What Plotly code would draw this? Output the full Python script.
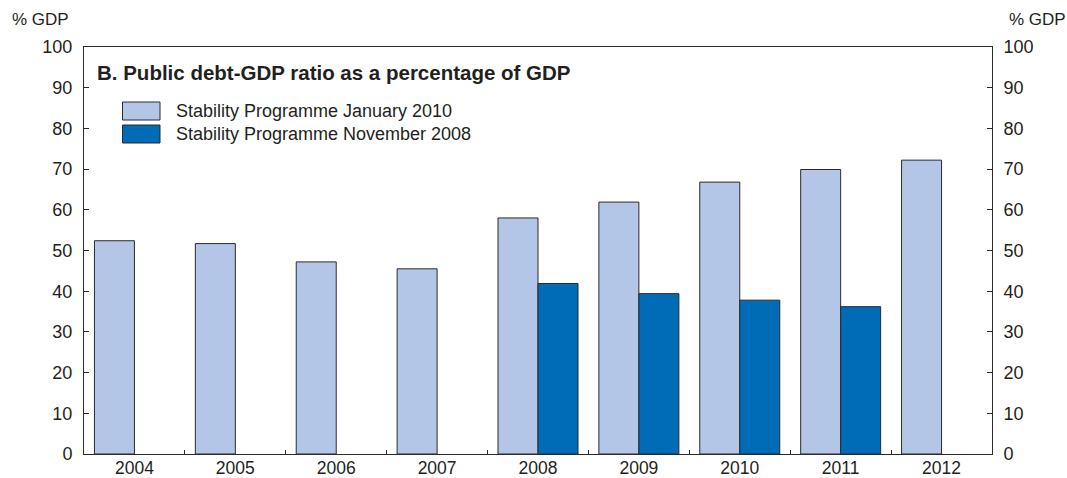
import plotly.graph_objects as go

years = ["2004", "2005", "2006", "2007", "2008", "2009", "2010", "2011", "2012"]
sp_jan_2010 = [52.4, 51.7, 47.2, 45.5, 58.0, 61.9, 66.8, 69.9, 72.2]
sp_nov_2008 = [None, None, None, None, 41.9, 39.4, 37.8, 36.2, None]
series_names = ["Stability Programme January 2010", "Stability Programme November 2008"]
y_ticks = [0, 10, 20, 30, 40, 50, 60, 70, 80, 90, 100]

LIGHT = "#B3C6E7"
DARK = "#006BB6"
EDGE = "#2b2b2b"
TXT = "#231F20"
FONT = "Liberation Sans, Arial, sans-serif"

W, H = 1067, 478
L, R, T, B = 84, 992, 47, 454
pw, ph = R - L, B - T

def px(x):
    return (x - L) / pw

def py(y):
    return (B - y) / ph

fig = go.Figure()
fig.add_trace(go.Bar(x=years, y=sp_jan_2010, name=series_names[0],
                     marker=dict(color=LIGHT, line=dict(color=EDGE, width=1))))
fig.add_trace(go.Bar(x=years, y=sp_nov_2008, name=series_names[1],
                     marker=dict(color=DARK, line=dict(color=EDGE, width=1))))
fig.add_trace(go.Scatter(x=[], y=[], yaxis="y2", showlegend=False, hoverinfo="skip"))

axis_common = dict(range=[0, 100], tickvals=y_ticks, ticks="inside", ticklen=5,
                   tickcolor=EDGE, showline=True, linecolor=EDGE, linewidth=1,
                   showgrid=False, zeroline=False, automargin=False, ticklabelstandoff=7,
                   tickfont=dict(size=18, color=TXT, family=FONT))

fig.update_layout(
    width=W, height=H,
    margin=dict(l=L, r=W - R, t=T, b=H - B, autoexpand=False),
    plot_bgcolor="white", paper_bgcolor="white",
    barmode="group", bargap=0.207, bargroupgap=0,
    showlegend=False,
    font=dict(family=FONT, color=TXT, size=18),
    xaxis=dict(type="category", tickson="boundaries", ticks="inside", ticklen=4,
               tickcolor=EDGE, showline=True, linecolor=EDGE, linewidth=1, mirror=True,
               showgrid=False, automargin=False, ticklabelstandoff=-2,
               tickfont=dict(size=17.5, color=TXT, family=FONT)),
    yaxis=dict(side="left", **axis_common),
    yaxis2=dict(side="right", overlaying="y", **axis_common),
)

# Legend (custom swatches)
sw_rows = [(102, 120, LIGHT, series_names[0]), (125, 143, DARK, series_names[1])]
for y0, y1, col, name in sw_rows:
    fig.add_shape(type="rect", xref="paper", yref="paper",
                  x0=px(122.5), x1=px(160), y0=py(y1), y1=py(y0),
                  fillcolor=col, line=dict(color=EDGE, width=1))
    fig.add_annotation(xref="paper", yref="paper", x=px(174), y=py((y0 + y1) / 2),
                       xanchor="left", yanchor="middle", text=name, showarrow=False,
                       font=dict(size=18, color=TXT, family=FONT))

fig.add_annotation(xref="paper", yref="paper", x=px(95), y=py(72), xanchor="left",
                   yanchor="middle", showarrow=False,
                   text="<b>B. Public debt-GDP ratio as a percentage of GDP</b>",
                   font=dict(size=20.5, color=TXT, family=FONT))
fig.add_annotation(xref="paper", yref="paper", x=px(10), y=py(20), xanchor="left",
                   yanchor="middle", showarrow=False, text="% GDP",
                   font=dict(size=17, color=TXT, family=FONT))
fig.add_annotation(xref="paper", yref="paper", x=px(1007), y=py(20), xanchor="left",
                   yanchor="middle", showarrow=False, text="% GDP",
                   font=dict(size=17, color=TXT, family=FONT))

fig.write_html("out.html", config={"displayModeBar": False},
               post_script="document.body.style.margin='0';")
